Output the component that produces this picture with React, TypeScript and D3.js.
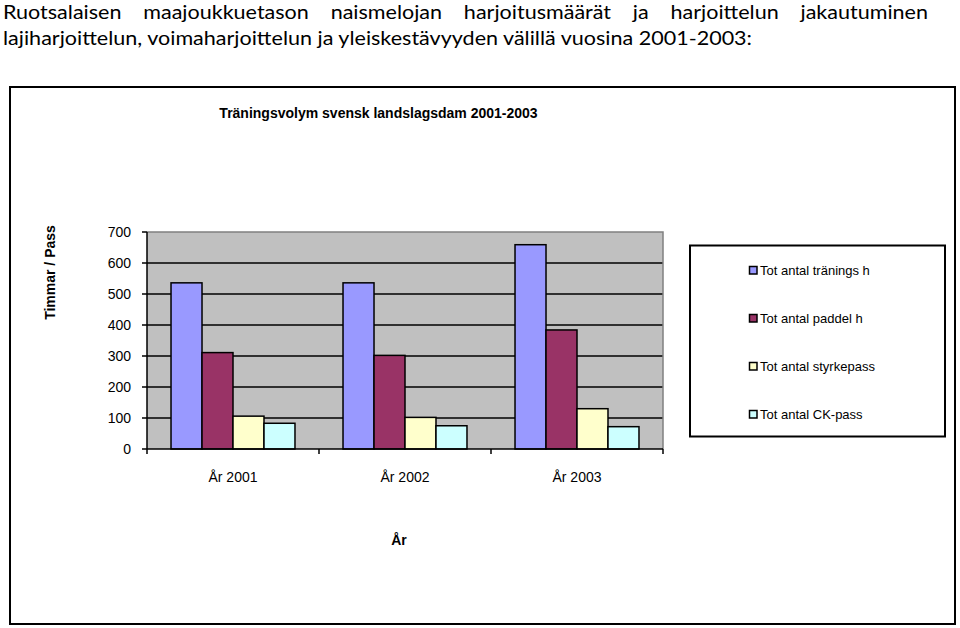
import React, { useEffect, useRef } from "react";
import * as d3 from "d3";

const headingLine1 = "Ruotsalaisen maajoukkuetason naismelojan harjoitusmäärät ja harjoittelun jakautuminen";
const headingLine2 = "lajiharjoittelun, voimaharjoittelun ja yleiskestävyyden välillä vuosina 2001-2003:";
const chartTitle = "Träningsvolym svensk landslagsdam 2001-2003";
const yAxisTitle = "Timmar / Pass";
const xAxisTitle = "År";

const categories = ["År 2001", "År 2002", "År 2003"];
const seriesNames = ["Tot antal tränings h", "Tot antal paddel h", "Tot antal styrkepass", "Tot antal CK-pass"];
const traningsH = [536, 536, 659];
const paddelH = [311, 302, 384];
const styrkepass = [106, 102, 130];
const ckPass = [83, 75, 72];
const seriesColors = ["#9999FF", "#993366", "#FFFFCC", "#CCFFFF"];
const yTicks = [0, 100, 200, 300, 400, 500, 600, 700];

export default function App() {
  const ref = useRef<SVGSVGElement | null>(null);

  useEffect(() => {
    const svg = d3.select(ref.current);
    svg.selectAll("*").remove();

    const W = 960, H = 628;
    svg.append("rect").attr("width", W).attr("height", H).attr("fill", "#fff");

    // Heading (justified first line)
    const hFont = "Lato, 'Open Sans', sans-serif";
    const hSize = 19.5;
    const line2 = svg.append("text").attr("x", 3).attr("y", 44.5)
      .attr("font-family", hFont).attr("font-size", hSize).attr("fill", "#000").text(headingLine2);
    const nat2 = (line2.node() as SVGTextElement).getComputedTextLength();
    const target2 = 749;
    line2.attr("textLength", target2).attr("lengthAdjust", "spacingAndGlyphs");
    const s = target2 / nat2;
    const words = headingLine1.split(" ");
    const wNodes = words.map((w) => svg.append("text").attr("y", 18.5)
      .attr("font-family", hFont).attr("font-size", hSize).attr("fill", "#000").text(w));
    const widths = wNodes.map((n) => (n.node() as SVGTextElement).getComputedTextLength() * s);
    const L1start = 3, L1end = 928;
    const gap = (L1end - L1start - d3.sum(widths)) / (words.length - 1);
    let cx = L1start;
    wNodes.forEach((n, i) => {
      n.attr("x", cx).attr("textLength", widths[i]).attr("lengthAdjust", "spacingAndGlyphs");
      cx += widths[i] + gap;
    });

    // Outer chart frame
    svg.append("rect").attr("x", 10).attr("y", 87).attr("width", 945).attr("height", 537)
      .attr("fill", "#fff").attr("stroke", "#000").attr("stroke-width", 2);

    const font = "Arial, 'Liberation Sans', sans-serif";

    svg.append("text").attr("x", 378.5).attr("y", 118).attr("text-anchor", "middle")
      .attr("font-family", font).attr("font-size", 14).attr("font-weight", "bold").text(chartTitle);

    const left = 147, right = 663, top = 232, bottom = 449;
    const x0 = d3.scaleBand<string>().domain(categories).range([left, right]).paddingInner(0).paddingOuter(0);
    const x1 = d3.scaleBand<string>().domain(seriesNames).range([0, x0.bandwidth()]).paddingInner(0).paddingOuter(0.775);
    const y = d3.scaleLinear().domain([0, 700]).range([bottom, top]);

    // plot area
    svg.append("rect").attr("x", left).attr("y", top).attr("width", right - left).attr("height", bottom - top)
      .attr("fill", "#C0C0C0");
    // gridlines
    svg.append("g").selectAll("line").data(yTicks.filter((t) => t > 0 && t < 700)).join("line")
      .attr("x1", left).attr("x2", right).attr("y1", (d) => y(d)).attr("y2", (d) => y(d))
      .attr("stroke", "#000").attr("stroke-width", 1.5);
    // top & right border
    svg.append("path").attr("d", `M${left},${top}H${right}V${bottom}`).attr("fill", "none")
      .attr("stroke", "#808080").attr("stroke-width", 1.5);

    // bars
    const data = [traningsH, paddelH, styrkepass, ckPass];
    const g = svg.append("g");
    data.forEach((vals, si) => {
      g.append("g").selectAll("rect").data(vals).join("rect")
        .attr("x", (_d, i) => (x0(categories[i]) as number) + (x1(seriesNames[si]) as number))
        .attr("width", x1.bandwidth())
        .attr("y", (d) => y(d))
        .attr("height", (d) => bottom - y(d))
        .attr("fill", seriesColors[si]).attr("stroke", "#000").attr("stroke-width", 1.5);
    });

    // y axis
    svg.append("line").attr("x1", left).attr("x2", left).attr("y1", top).attr("y2", bottom)
      .attr("stroke", "#000").attr("stroke-width", 1.5);
    const yt = svg.append("g");
    yt.selectAll("line").data(yTicks).join("line")
      .attr("x1", left - 5).attr("x2", left).attr("y1", (d) => y(d)).attr("y2", (d) => y(d))
      .attr("stroke", "#000").attr("stroke-width", 1.5);
    yt.selectAll("text").data(yTicks).join("text")
      .attr("x", 131).attr("y", (d) => y(d)).attr("dy", "0.35em").attr("text-anchor", "end")
      .attr("font-family", font).attr("font-size", 14).text((d) => String(d));

    // x axis
    svg.append("line").attr("x1", left).attr("x2", right).attr("y1", bottom).attr("y2", bottom)
      .attr("stroke", "#000").attr("stroke-width", 1.5);
    const bounds = [left, ...categories.map((c) => (x0(c) as number) + x0.bandwidth())];
    svg.append("g").selectAll("line").data(bounds).join("line")
      .attr("x1", (d) => d).attr("x2", (d) => d).attr("y1", bottom).attr("y2", bottom + 5)
      .attr("stroke", "#000").attr("stroke-width", 1.5);
    svg.append("g").selectAll("text").data(categories).join("text")
      .attr("x", (d) => (x0(d) as number) + x0.bandwidth() / 2).attr("y", 482)
      .attr("text-anchor", "middle").attr("font-family", font).attr("font-size", 14).text((d) => d);

    svg.append("text").attr("x", 399).attr("y", 545).attr("text-anchor", "middle")
      .attr("font-family", font).attr("font-size", 14).attr("font-weight", "bold").text(xAxisTitle);

    svg.append("text").attr("transform", "translate(55,272.5) rotate(-90)").attr("text-anchor", "middle")
      .attr("font-family", font).attr("font-size", 14).attr("font-weight", "bold").text(yAxisTitle);

    // legend
    svg.append("rect").attr("x", 690).attr("y", 245.5).attr("width", 255).attr("height", 191)
      .attr("fill", "#fff").attr("stroke", "#000").attr("stroke-width", 2);
    const lg = svg.append("g").selectAll("g").data(seriesNames).join("g")
      .attr("transform", (_d, i) => `translate(749,${270.5 + i * 48})`);
    lg.append("rect").attr("x", 0.5).attr("y", -4).attr("width", 7.5).attr("height", 7.5)
      .attr("fill", (_d, i) => seriesColors[i]).attr("stroke", "#000").attr("stroke-width", 1.5);
    lg.append("text").attr("x", 11).attr("y", 0).attr("dy", "0.35em")
      .attr("font-family", font).attr("font-size", 13).text((d) => d);
  }, []);

  return (
    <svg ref={ref} width={960} height={628}
      style={{ position: "absolute", left: 0, top: 0, display: "block" }} />
  );
}
